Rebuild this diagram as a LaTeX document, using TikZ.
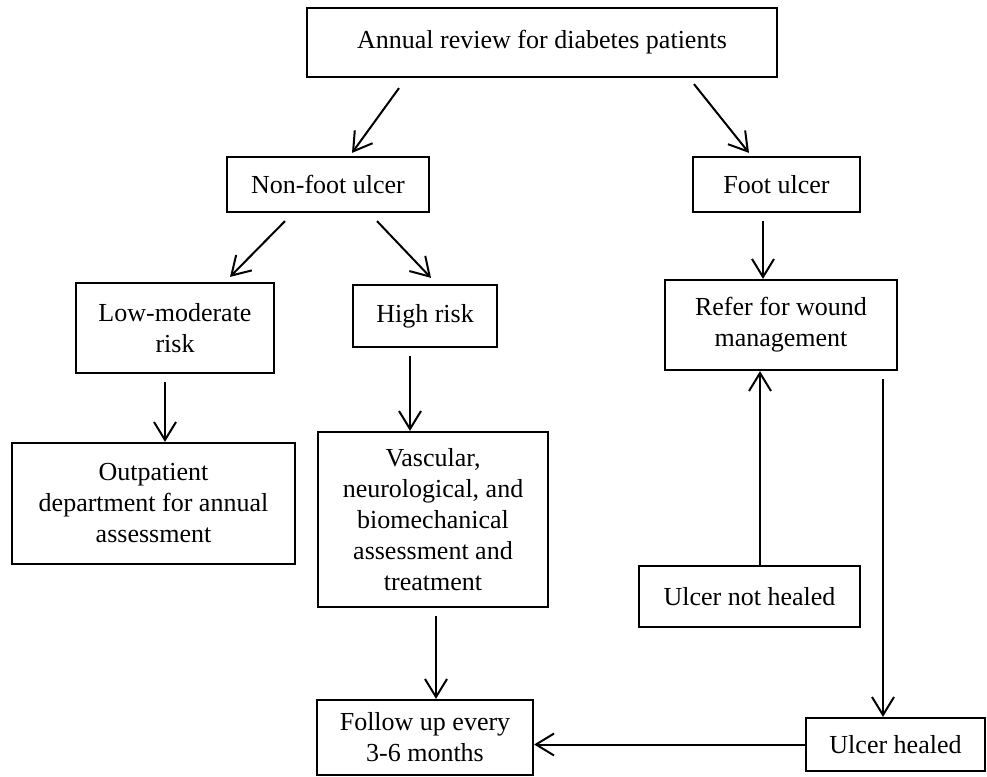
\documentclass[tikz,border=0pt]{standalone}
\usepackage{fontspec}
\setmainfont{Liberation Serif}
\usetikzlibrary{arrows.meta,calc}
\begin{document}
\begin{tikzpicture}[x=1pt,y=1pt,
  box/.style={draw,line width=2.2pt,rectangle,inner sep=0pt,align=center,
    font=\fontsize{26}{31}\selectfont},
  arr/.style={line width=2pt,-{Straight Barb[length=18pt,width=22pt]}}]
\useasboundingbox (0,0) rectangle (987,-776);
\node[box,minimum width=470,minimum height=69] (annual) at (542,-42.5) {Annual review for diabetes patients};
\node[box,minimum width=202,minimum height=55] (nonfoot) at (328,-184.5) {Non-foot ulcer};
\node[box,minimum width=167,minimum height=55] (foot) at (776.5,-184.5) {Foot ulcer};
\node[box,minimum width=198,minimum height=90] (low) at (175,-328) {Low-moderate\\risk};
\node[box,minimum width=144,minimum height=62] (high) at (425,-316) {High risk};
\node[box,minimum width=232,minimum height=90] (refer) at (781,-325) {Refer for wound\\management};
\node[box,minimum width=283,minimum height=121] (outp) at (153.5,-503.5) {Outpatient\\department for annual\\assessment};
\node[box,minimum width=230,minimum height=175] (vasc) at (433,-519.5) {Vascular,\\neurological, and\\biomechanical\\assessment and\\treatment};
\node[box,minimum width=221,minimum height=61] (notheal) at (749.5,-596.5) {Ulcer not healed};
\node[box,minimum width=179,minimum height=53] (healed) at (895.5,-744.5) {Ulcer healed};
\node[box,minimum width=216,minimum height=75] (follow) at (425,-737.5) {Follow up every\\3-6 months};
% diagonal arrows
\draw[arr] ([xshift=-143pt,yshift=-10pt]annual.south) -- ([xshift=24pt,yshift=3pt]nonfoot.north);
\draw[arr] ([xshift=152pt,yshift=-6pt]annual.south) -- ([xshift=-27.5pt,yshift=3pt]foot.north);
\draw[arr] ([xshift=-43pt,yshift=-8pt]nonfoot.south) -- ([xshift=55pt,yshift=5pt]low.north);
\draw[arr] ([xshift=49pt,yshift=-8pt]nonfoot.south) -- ([xshift=6pt,yshift=6pt]high.north);
% vertical arrows
\coordinate (s1) at ([xshift=-13.5pt,yshift=-8pt]foot.south);
\draw[arr] (s1) -- (s1 |- refer.north);
\coordinate (s2) at ([xshift=-10pt,yshift=-8pt]low.south);
\draw[arr] (s2) -- (s2 |- outp.north);
\coordinate (s3) at ([xshift=-15pt,yshift=-8pt]high.south);
\draw[arr] (s3) -- (s3 |- vasc.north);
\coordinate (s4) at ([xshift=3pt,yshift=-8pt]vasc.south);
\draw[arr] (s4) -- (s4 |- follow.north);
\coordinate (s5) at ([xshift=10.5pt]notheal.north);
\draw[arr] (s5) -- (s5 |- refer.south);
\coordinate (s6) at ([xshift=102pt,yshift=-8pt]refer.south);
\draw[arr] (s6) -- (s6 |- healed.north);
\draw[arr] (healed.west) -- (healed.west -| follow.east);
\end{tikzpicture}
\end{document}
